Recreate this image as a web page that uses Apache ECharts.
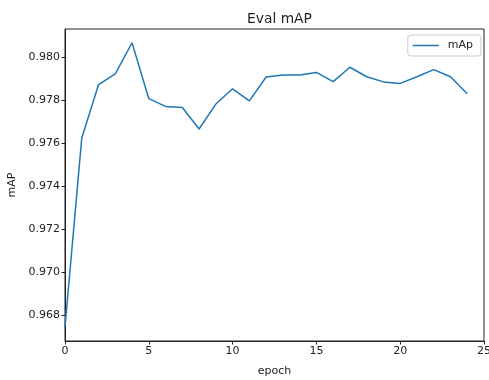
<!DOCTYPE html>
<html>
<head>
<meta charset="utf-8">
<script src="https://cdn.jsdelivr.net/npm/echarts@6/dist/echarts.min.js"></script>
<style>
html,body{margin:0;padding:0;background:#fff;}
#chart{width:489px;height:380px;}
</style>
</head>
<body>
<div id="chart"></div>
<script>
var epochs = [0,1,2,3,4,5,6,7,8,9,10,11,12,13,14,15,16,17,18,19,20,21,22,23,24];
var mapValues = [0.96745,0.97623,0.97871,0.97921,0.98066,0.97806,0.97770,0.97765,0.97665,0.97781,0.97852,0.97796,0.97907,0.97916,0.97916,0.97928,0.97885,0.97952,0.97908,0.97884,0.97877,0.97908,0.97941,0.97908,0.97829];
var yTicks = [0.968,0.970,0.972,0.974,0.976,0.978,0.980];
var xTicks = [0,5,10,15,20,25];

var font = 'DejaVu Sans';
var chart = echarts.init(document.getElementById('chart'), null, {renderer:'canvas'});
chart.setOption({
  animation:false,
  backgroundColor:'#ffffff',
  title:{
    text:'Eval mAP', left:274.5, textAlign:'center', top:7,
    textStyle:{fontFamily:font, fontSize:13.8, fontWeight:'normal', color:'#222'}
  },
  legend:{
    data:['mAp'], right:8, top:35,
    icon:'rect', itemWidth:26, itemHeight:1.5,
    padding:[5,8,5,5],
    borderColor:'#cccccc', borderWidth:1, borderRadius:3,
    backgroundColor:'#ffffff',
    textStyle:{fontFamily:font, fontSize:11, color:'#222', padding:[0,0,0,4]}
  },
  grid:{
    left:65, right:5, top:29, bottom:39,
    outerBoundsMode:'none', containLabel:false,
    show:true, borderColor:'#222', borderWidth:1, backgroundColor:'transparent'
  },
  xAxis:{
    type:'value', min:0, max:25, interval:5,
    name:'epoch', nameLocation:'middle', nameGap:25,
    nameTextStyle:{fontFamily:font, fontSize:11, color:'#222'},
    axisLine:{show:true, lineStyle:{color:'#222', width:1}},
    axisTick:{show:true, length:3.5, lineStyle:{color:'#222'}, customValues:xTicks},
    axisLabel:{fontFamily:font, fontSize:11, color:'#222', margin:5, customValues:xTicks},
    splitLine:{show:false}
  },
  yAxis:{
    type:'value', min:0.96679, max:0.98130,
    name:'mAP', nameLocation:'middle', nameGap:46, nameRotate:90,
    nameTextStyle:{fontFamily:font, fontSize:11, color:'#222'},
    axisLine:{show:true, lineStyle:{color:'#222', width:1}},
    axisTick:{show:true, length:3.5, lineStyle:{color:'#222'}, customValues:yTicks},
    axisLabel:{fontFamily:font, fontSize:11, color:'#222', margin:5, customValues:yTicks,
      formatter:function(v){return v.toFixed(3);}},
    splitLine:{show:false}
  },
  series:[{
    name:'mAp', type:'line', showSymbol:false, symbol:'none',
    data:epochs.map(function(e,i){return [e, mapValues[i]];}),
    lineStyle:{color:'#1f77b4', width:1.5},
    itemStyle:{color:'#1f77b4'}
  }]
});
</script>
</body>
</html>
